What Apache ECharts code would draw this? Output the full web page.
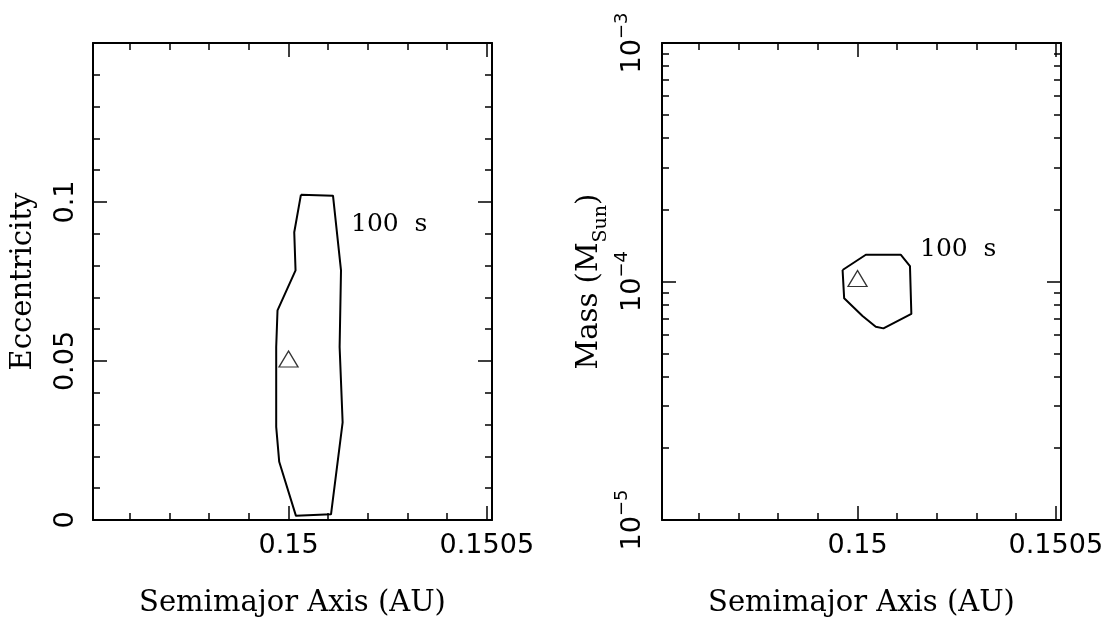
<!DOCTYPE html>
<html>
<head>
<meta charset="utf-8">
<script src="https://cdn.jsdelivr.net/npm/echarts@6.0.0/dist/echarts.min.js"></script>
<style>
html,body{margin:0;padding:0;background:#fff;}
#main{width:1107px;height:623px;}
</style>
</head>
<body>
<div id="main"></div>
<script>
//半长轴 (AU)
var axisRange = [0.149507, 0.150513];
var axisMinorTicks = [0.1496, 0.1497, 0.1498, 0.1499, 0.15, 0.1501, 0.1502, 0.1503, 0.1504, 0.1505];
var axisMajorTicks = [0.15, 0.1505];

//偏心率
var eccRange = [0, 0.15];
var eccMinorTicks = [0.01, 0.02, 0.03, 0.04, 0.05, 0.06, 0.07, 0.08, 0.09, 0.1, 0.11, 0.12, 0.13, 0.14];
var eccMajorTicks = [0.05, 0.1];
var eccLabels = [0, 0.05, 0.1];

//质量 (10的幂)
var massExps = [-5, -4, -3];
var massMantissas = [2, 3, 4, 5, 6, 7, 8, 9];

//100 s 等值线: 半长轴-偏心率
var contourEccA = [0.1500313, 0.1501121, 0.1501323, 0.1501288, 0.1501364, 0.1501071, 0.1500187,
	0.1499765, 0.1499689, 0.1499689, 0.1499722, 0.1500177, 0.1500144, 0.1500313];
var contourEccE = [0.1023, 0.1020, 0.0785, 0.0544, 0.0307, 0.0018, 0.0013,
	0.0183, 0.0293, 0.0544, 0.0659, 0.0785, 0.0905, 0.1023];

//100 s 等值线: 半长轴-质量
var contourMassA = [0.1499623, 0.1500209, 0.1501088, 0.1501322, 0.1501357, 0.1500653, 0.150046,
	0.1500126, 0.1499663, 0.1499623];
var contourMassM = [1.117e-4, 1.295e-4, 1.295e-4, 1.161e-4, 7.31e-5, 6.36e-5, 6.46e-5,
	7.17e-5, 8.50e-5, 1.117e-4];

//真实行星
var trueA = [0.15];
var trueE = [0.05];
var trueM = [1e-4];

var sansFont = 'DejaVu Sans';
var serifFont = 'DejaVu Serif';

//质量轴的刻度 (对数)
var massMajorTicks = [];
var massMinorTicks = [];
for (var i = 0; i < massExps.length; i++) {
	massMajorTicks.push(massExps[i]);
	if (i < massExps.length - 1) {
		for (var j = 0; j < massMantissas.length; j++) {
			massMinorTicks.push(massExps[i] + Math.log10(massMantissas[j]));
		}
	}
}

//边框+刻度
function frameAxis(grid, pos, range, ticks, len, line) {
	return {
		type: 'value',
		gridIndex: grid,
		position: pos,
		min: range[0],
		max: range[1],
		axisLine: { show: line, onZero: false, lineStyle: { color: '#000', width: 2 } },
		axisTick: { show: true, inside: true, length: len, customValues: ticks, lineStyle: { color: '#000', width: 1.5 } },
		axisLabel: { show: false },
		splitLine: { show: false }
	};
}

function pairs(xs, ys, f) {
	var out = [];
	for (var i = 0; i < xs.length; i++) {
		out.push([xs[i], f ? f(ys[i]) : ys[i]]);
	}
	return out;
}

var nameStyle = { fontFamily: serifFont, fontSize: 29, color: '#000' };

var xAxes = [];
var yAxes = [];
for (var g = 0; g < 2; g++) {
	var xa = frameAxis(g, 'bottom', axisRange, axisMinorTicks, 7, true);
	xa.axisLabel = { show: true, customValues: axisMajorTicks, fontFamily: sansFont, fontSize: 27, color: '#000', margin: 12 };
	xa.name = 'Semimajor Axis (AU)';
	xa.nameLocation = 'middle';
	xa.nameGap = 69;
	xa.nameMoveOverlap = false;
	xa.nameTextStyle = nameStyle;
	xAxes.push(xa);
	xAxes.push(frameAxis(g, 'bottom', axisRange, axisMajorTicks, 14, false));
	xAxes.push(frameAxis(g, 'top', axisRange, axisMinorTicks, 7, true));
	xAxes.push(frameAxis(g, 'top', axisRange, axisMajorTicks, 14, false));
}

//左图 y: 偏心率
var ya = frameAxis(0, 'left', eccRange, eccMinorTicks, 7, true);
ya.axisLabel = { show: true, customValues: eccLabels, rotate: 90, fontFamily: sansFont, fontSize: 27, color: '#000', margin: 14 };
ya.name = 'Eccentricity';
ya.nameLocation = 'middle';
ya.nameGap = 55;
ya.nameMoveOverlap = false;
ya.nameTextStyle = nameStyle;
yAxes.push(ya);
yAxes.push(frameAxis(0, 'left', eccRange, eccMajorTicks, 14, false));
yAxes.push(frameAxis(0, 'right', eccRange, eccMinorTicks, 7, true));
yAxes.push(frameAxis(0, 'right', eccRange, eccMajorTicks, 14, false));

//右图 y: 质量
var massRange = [massExps[0], massExps[massExps.length - 1]];
var ym = frameAxis(1, 'left', massRange, massMinorTicks, 7, true);
ym.axisLabel = {
	show: true, customValues: massMajorTicks, rotate: 90, fontFamily: sansFont, fontSize: 27, color: '#000',
	margin: 9, lineHeight: 40,
	formatter: function (v) {
		return '10{sup|\u2212' + Math.abs(Math.round(v)) + '}';
	},
	rich: { sup: { fontFamily: sansFont, fontSize: 18, color: '#000', verticalAlign: 'top', lineHeight: 40 } }
};
ym.name = 'Mass (M{sub|Sun})';
ym.nameLocation = 'middle';
ym.nameGap = 51;
ym.nameMoveOverlap = false;
ym.nameTextStyle = {
	fontFamily: serifFont, fontSize: 29, color: '#000',
	rich: { sub: { fontFamily: serifFont, fontSize: 19, color: '#000', verticalAlign: 'bottom', lineHeight: 44 } }
};
yAxes.push(ym);
yAxes.push(frameAxis(1, 'left', massRange, [-4], 14, false));
yAxes.push(frameAxis(1, 'right', massRange, massMinorTicks, 7, true));
yAxes.push(frameAxis(1, 'right', massRange, [-4], 14, false));

var lineStyle = { color: '#000', width: 2 };
var triStyle = { color: 'rgba(0,0,0,0)', borderColor: '#000', borderWidth: 1.3 };
var labelFont = { fontFamily: serifFont, fontSize: 25, fill: '#000', verticalAlign: 'middle', align: 'left' };

var myChart = echarts.init(document.getElementById('main'));
var option = {
	animation: false,
	backgroundColor: '#fff',
	grid: [
		{ left: 93, top: 43, width: 399, height: 477, outerBoundsMode: 'none' },
		{ left: 662, top: 43, width: 399, height: 477, outerBoundsMode: 'none' }
	],
	xAxis: xAxes,
	yAxis: yAxes,
	series: [
		{
			type: 'line', xAxisIndex: 0, yAxisIndex: 0,
			data: pairs(contourEccA, contourEccE),
			symbol: 'none', lineStyle: lineStyle, clip: false
		},
		{
			type: 'scatter', xAxisIndex: 0, yAxisIndex: 0,
			data: pairs(trueA, trueE),
			symbol: 'triangle', symbolSize: [19, 16], symbolOffset: [0, -2], itemStyle: triStyle
		},
		{
			type: 'line', xAxisIndex: 4, yAxisIndex: 4,
			data: pairs(contourMassA, contourMassM, Math.log10),
			symbol: 'none', lineStyle: lineStyle, clip: false
		},
		{
			type: 'scatter', xAxisIndex: 4, yAxisIndex: 4,
			data: pairs(trueA, trueM, Math.log10),
			symbol: 'triangle', symbolSize: [19, 16], symbolOffset: [0, -3], itemStyle: triStyle
		}
	],
	graphic: [
		{ type: 'text', x: 351, y: 224, style: echarts.util.extend({ text: '100  s' }, labelFont) },
		{ type: 'text', x: 920, y: 249, style: echarts.util.extend({ text: '100  s' }, labelFont) }
	]
};
myChart.setOption(option);
</script>
</body>
</html>
